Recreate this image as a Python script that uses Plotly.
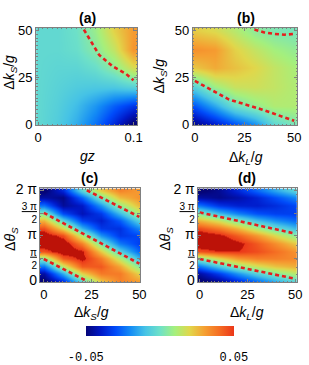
import numpy as np
import plotly.graph_objects as go

# ---------------- data ----------------
# panel (a): x = gz, y = dk_S/g
a_gz = [0.0, 0.02, 0.04, 0.06, 0.08, 0.1]
a_dks = [0, 10, 20, 30, 40, 50]
a_z = [
    [-0.003, -0.007, -0.014, -0.024, -0.037, -0.052],
    [-0.003, -0.006, -0.011, -0.018, -0.027, -0.034],
    [-0.003, -0.005, -0.007, -0.008, -0.008, -0.005],
    [-0.003, -0.004, -0.004, -0.001, 0.006, 0.018],
    [-0.003, -0.003, -0.001, 0.005, 0.015, 0.032],
    [-0.003, -0.003, 0.000, 0.008, 0.021, 0.031],
]
a_line_gz = [0.048, 0.054, 0.064, 0.078, 0.092, 0.1]
a_line_dks = [50.5, 45.5, 37.0, 31.0, 27.0, 23.5]

# panel (b): x = dk_L/g, y = dk_S/g
b_dkl = [0, 10, 20, 30, 40, 50]
b_dks = [0, 10, 20, 30, 40, 50]
b_z = [
    [-0.048, -0.040, -0.030, -0.020, -0.004, 0.002],
    [-0.028, -0.015, 0.000, 0.007, 0.012, 0.012],
    [-0.005, 0.009, 0.016, 0.017, 0.015, 0.012],
    [0.023, 0.028, 0.024, 0.020, 0.015, 0.011],
    [0.033, 0.031, 0.021, 0.015, 0.010, 0.007],
    [0.022, 0.019, 0.013, 0.006, 0.003, 0.002],
]
b_low_dkl = [0, 17, 34, 50]
b_low_dks = [23.2, 13.4, 7.9, 2.0]
b_up_dkl = [30, 35, 40, 45, 50]
b_up_dks = [50.5, 49.0, 48.2, 47.8, 48.2]

# panels (c), (d): y = dtheta_S
theta_grid = [0, 0.524, 1.047, 1.571, 2.094, 2.618, 3.142, 3.665, 4.189,
              4.712, 5.236, 5.760, 6.283]
cd_x = [0, 10, 20, 30, 40, 50]

c_x0 = [-0.052, -0.0445, -0.024, 0.004, 0.045, 0.058, 0.057, 0.046, 0.026, 0.004, -0.024, -0.0445, -0.052]
c_x10 = [-0.0365, -0.014, 0.0133, 0.043, 0.057, 0.058, 0.046, 0.020, -0.0053, -0.0301, -0.0458, -0.0482, -0.0365]
c_x20 = [-0.004, 0.0203, 0.043, 0.053, 0.052, 0.036, 0.012, -0.0123, -0.032, -0.0423, -0.0401, -0.0261, -0.004]
c_x30 = [0.0227, 0.0376, 0.044, 0.0374, 0.0223, 0.0018, -0.0187, -0.0336, -0.039, -0.0334, -0.0183, 0.0022, 0.0227]
c_x40 = [0.0359, 0.0374, 0.0292, 0.0134, -0.0057, -0.023, -0.0339, -0.0354, -0.0272, -0.0114, 0.0077, 0.025, 0.0359]
c_x50 = [0.0309, 0.021, 0.0054, -0.0116, -0.0254, -0.0325, -0.0309, -0.021, -0.0054, 0.0116, 0.0254, 0.0325, 0.0309]
c_l1_x, c_l1_t = [0, 25, 50], [4.73, 3.0, 1.23]
c_l2_x, c_l2_t = [0, 23], [1.55, 0.0]
c_l3_x, c_l3_t = [22.5, 50], [6.283, 4.45]

d_x0 = [-0.052, -0.0445, -0.024, 0.004, 0.045, 0.058, 0.057, 0.046, 0.026, 0.004, -0.024, -0.0445, -0.052]
d_x10 = [-0.0469, -0.0328, -0.0088, 0.0187, 0.050, 0.058, 0.053, 0.038, 0.0168, -0.0107, -0.0342, -0.0474, -0.0469]
d_x20 = [-0.0367, -0.0184, 0.0057, 0.031, 0.050, 0.053, 0.043, 0.0264, 0.0023, -0.0215, -0.0384, -0.044, -0.0367]
d_x30 = [-0.0257, -0.0058, 0.0164, 0.036, 0.0460, 0.0439, 0.0317, 0.0118, -0.0104, -0.029, -0.0391, -0.0379, -0.0257]
d_x40 = [-0.0146, 0.0048, 0.0234, 0.0362, 0.0399, 0.0334, 0.0186, -0.0008, -0.0194, -0.0322, -0.0359, -0.0294, -0.0146]
d_x50 = [-0.0048, 0.0128, 0.0271, 0.0345, 0.0329, 0.0228, 0.0068, -0.0108, -0.0251, -0.0325, -0.0309, -0.0208, -0.0048]
d_l1_x, d_l1_t = [0, 25, 50], [4.76, 4.02, 3.30]
d_l2_x, d_l2_t = [0, 25, 50], [1.55, 0.85, 0.19]

theta_ticks = [0, np.pi / 2, np.pi, 3 * np.pi / 2, 2 * np.pi]
theta_ticktext = [
    "<span style='font-size:14px'>0</span>",
    "<u>π</u><br>2",
    "<span style='font-size:14px'>π</span>",
    "<u>3 π</u><br>2",
    "<span style='font-size:14px'>2 π</span>",
]

cbar_ticks = [-0.05, 0.05]
cbar_ticktext = ["-0.05", "0.05"]

# ---------------- colours ----------------
cb_pos = [0, .1, .2, .3, .4, .5, .6, .7, .8, .9, 1.0]
cb_col = ["rgb(5,5,120)", "rgb(0,25,200)", "rgb(0,75,250)", "rgb(20,140,245)",
          "rgb(70,195,230)", "rgb(110,225,200)", "rgb(165,240,125)",
          "rgb(225,215,75)", "rgb(245,160,50)", "rgb(245,110,35)",
          "rgb(235,55,25)"]
clip_col = "rgb(188,18,8)"
ZMIN, ZBAR, ZMAX = -0.05, 0.05, 0.07
bar_scale = [[p, c] for p, c in zip(cb_pos, cb_col)]
f = (ZBAR - ZMIN) / (ZMAX - ZMIN)
heat_scale = [[p * f, c] for p, c in zip(cb_pos, cb_col)] + [[f + 1e-4, clip_col], [1.0, clip_col]]

W, H = 309, 365
FONT = "Arial, Liberation Sans, sans-serif"
RED = "rgb(230,30,30)"
FRAME = "#808080"


def xd(a, b):
    return [a / W, b / W]


def yd(top, bottom):
    return [1 - bottom / H, 1 - top / H]


fig = go.Figure()


def heat(x, y, z, ax):
    fig.add_trace(go.Heatmap(x=x, y=y, z=z, zmin=ZMIN, zmax=ZMAX,
                             colorscale=heat_scale, zsmooth="best",
                             showscale=False, hoverinfo="skip",
                             xaxis="x" + ax, yaxis="y" + ax))


def dline(x, y, ax):
    fig.add_trace(go.Scatter(x=x, y=y, mode="lines", showlegend=False,
                             line=dict(color=RED, width=2.6, dash="4px,3px"),
                             hoverinfo="skip", xaxis="x" + ax, yaxis="y" + ax))


heat(a_gz, a_dks, a_z, "")
dline(a_line_gz, a_line_dks, "")

heat(b_dkl, b_dks, b_z, "2")
dline(b_low_dkl, b_low_dks, "2")
dline(b_up_dkl, b_up_dks, "2")

c_z = np.array([c_x0, c_x10, c_x20, c_x30, c_x40, c_x50]).T
heat(cd_x, theta_grid, c_z, "3")
dline(c_l1_x, c_l1_t, "3")
dline(c_l2_x, c_l2_t, "3")
dline(c_l3_x, c_l3_t, "3")

d_z = np.array([d_x0, d_x10, d_x20, d_x30, d_x40, d_x50]).T
heat(cd_x, theta_grid, d_z, "4")
dline(d_l1_x, d_l1_t, "4")
dline(d_l2_x, d_l2_t, "4")

# colour bar (separate, showing only the -0.05..0.05 part)
fig.add_trace(go.Scatter(
    x=[0], y=[-100], mode="markers", showlegend=False, hoverinfo="skip",
    xaxis="x3", yaxis="y3",
    marker=dict(color=[0], cmin=ZMIN, cmax=ZBAR, colorscale=bar_scale,
                showscale=True,
                colorbar=dict(orientation="h", x=162 / W, xanchor="center",
                              y=1 - 338 / H, yanchor="top",
                              len=152 / W, lenmode="fraction",
                              thickness=10, thicknessmode="pixels",
                              outlinewidth=0, xpad=0, ypad=0,
                              ticks="outside", ticklen=11,
                              tickcolor="rgba(0,0,0,0)",
                              tickvals=cbar_ticks, ticktext=cbar_ticktext,
                              tickfont=dict(family="Liberation Mono, Courier New, monospace",
                                            size=12, color="black")))))


def ax(dom, anchor, rng, tickvals, ticktext=None, tsize=13):
    d = dict(domain=dom, anchor=anchor, range=rng, tickvals=tickvals,
             showline=True, mirror="allticks", linecolor=FRAME, linewidth=1,
             ticks="inside", ticklen=3, tickcolor=FRAME, showgrid=False,
             zeroline=False, ticklabeloverflow="allow",
             tickfont=dict(family=FONT, size=tsize, color="black"),
             minor=dict(ticks="inside", ticklen=1.5, tickcolor=FRAME, nticks=6))
    if ticktext is not None:
        d["ticktext"] = ticktext
    return d


fig.update_layout(
    width=W, height=H, margin=dict(l=0, r=0, t=0, b=0),
    paper_bgcolor="white", plot_bgcolor="white", showlegend=False,
    xaxis=ax(xd(35, 139), "y", [-0.002, 0.104], [0, 0.1], ["0", "0.1"]),
    yaxis=ax(yd(21, 125), "x", [-0.5, 51.5], [0, 25, 50]),
    xaxis2=ax(xd(196, 303), "y2", [-1, 51.5], [0, 25, 50]),
    yaxis2=ax(yd(21, 125), "x2", [-0.5, 51.5], [0, 25, 50]),
    xaxis3=ax(xd(39, 142), "y3", [-2, 50.5], [0, 25, 50]),
    yaxis3=ax(yd(192, 292), "x3", [-0.06, 6.41], theta_ticks, theta_ticktext, tsize=10),
    xaxis4=ax(xd(201, 303), "y4", [-1, 51], [0, 25, 50]),
    yaxis4=ax(yd(192, 292), "x4", [-0.06, 6.41], theta_ticks, theta_ticktext, tsize=10),
)

DKS = "Δ<i>k<sub>S</sub></i>/<i>g</i>"
DKL = "Δ<i>k<sub>L</sub></i>/<i>g</i>"
DTH = "Δ<i>θ<sub>S</sub></i>"


def note(text, x, y, size=14, angle=0, bold=False):
    fig.add_annotation(text=("<b>%s</b>" % text) if bold else text,
                       x=x / W, y=1 - y / H, xref="paper", yref="paper",
                       showarrow=False, textangle=angle, xanchor="center",
                       yanchor="middle", font=dict(family=FONT, size=size, color="black"))


note("(a)", 88, 11, 14, bold=True)
note("(b)", 250, 11, 14, bold=True)
note("(c)", 90, 181, 14, bold=True)
note("(d)", 252, 181, 14, bold=True)
note("<i>gz</i>", 88, 158, 14)
note(DKL, 250, 160, 14)
note(DKS, 92, 325, 14)
note(DKL, 252, 325, 14)
note(DKS, 8, 68, 14, angle=-90)
note(DKS, 162, 72, 14, angle=-90)
note(DTH, 9, 246, 14, angle=-90)
note(DTH, 169, 246, 14, angle=-90)

fig.write_html(
    "out.html",
    config={"displayModeBar": False},
    post_script="document.body.style.margin='0px';document.body.style.padding='0px';"
                "document.body.style.overflow='hidden';",
)
